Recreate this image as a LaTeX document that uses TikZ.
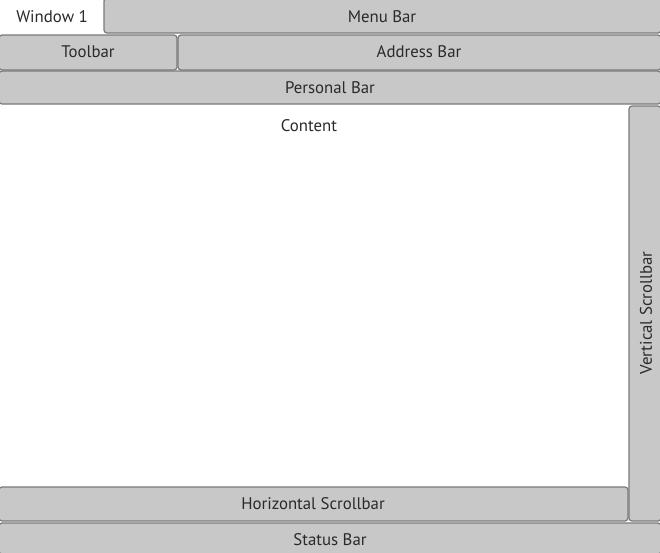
\documentclass[tikz,border=0pt]{standalone}
\usepackage{fontspec}
\setmainfont{PT Sans}
\definecolor{barfill}{HTML}{C8C8C8}
\definecolor{barline}{HTML}{7A7A7A}
\definecolor{txt}{HTML}{2A2A2A}
\begin{document}
\begin{tikzpicture}[x=1pt,y=-1pt,
  bar/.style={draw=barline,fill=barfill,line width=1.2pt,rounded corners=3pt},
  lbl/.style={text=txt,font=\fontsize{16.8}{19}\selectfont,inner sep=0pt}]
\useasboundingbox (0,0) rectangle (660,552);
\fill[white] (0,0) rectangle (660,552);
% bars
\draw[bar] (104,-2) rectangle (661,33);
\draw[bar] (-1,35) rectangle (177,70);
\draw[bar] (178,35) rectangle (661,70);
\draw[bar] (-1,71) rectangle (661,104);
\draw[bar] (629,106) rectangle (661,521);
\draw[bar] (-1,487) rectangle (628,521);
\draw[bar] (-1,523) rectangle (661,554);
% labels
\node[lbl] (win) at (52,17) {Window 1};
\node[lbl] (menu) at (382,17) {Menu Bar};
\node[lbl] (tool) at (88,52) {Toolbar};
\node[lbl] (addr) at (419,52) {Address Bar};
\node[lbl] (pers) at (330,88) {Personal Bar};
\node[lbl] (cont) at (309,126) {Content};
\node[lbl,rotate=90] (vs) at (646,313) {Vertical Scrollbar};
\node[lbl] (hs) at (313,504) {Horizontal Scrollbar};
\node[lbl] (st) at (330,540) {Status Bar};
\end{tikzpicture}
\end{document}
